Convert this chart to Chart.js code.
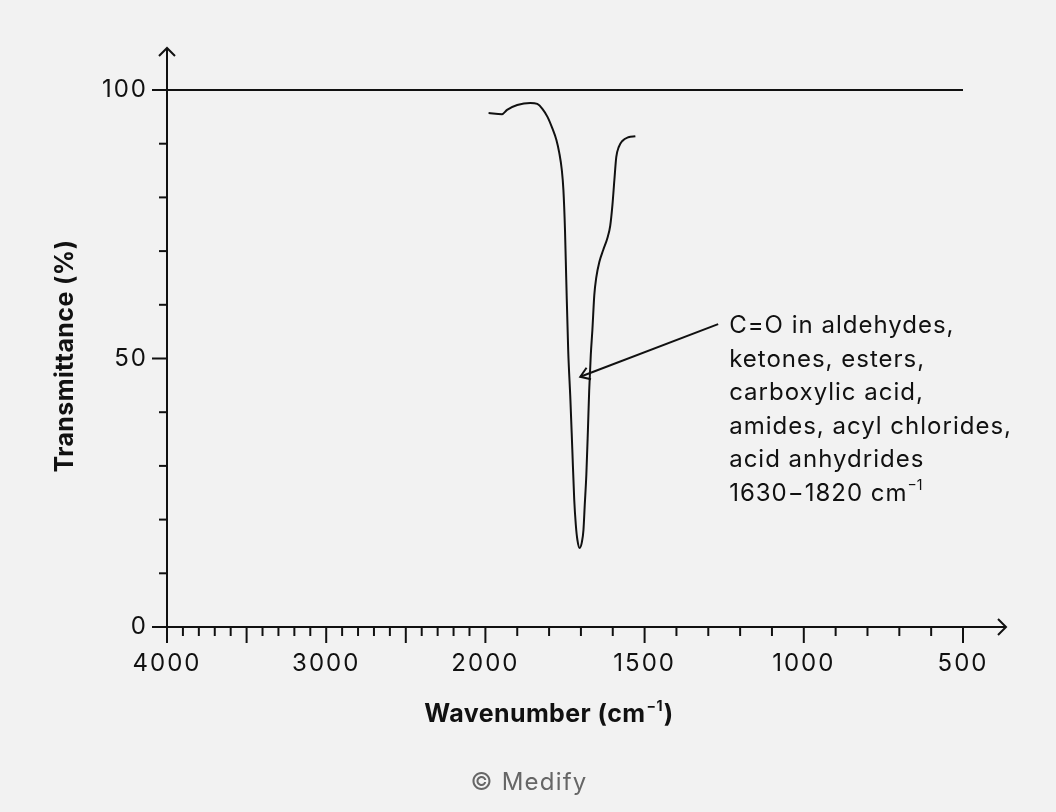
<!DOCTYPE html>
<html><head><meta charset="utf-8">
<script src="https://cdn.jsdelivr.net/npm/chart.js@4.4.1/dist/chart.umd.min.js"></script>
<style>html,body{margin:0;padding:0;background:#f2f2f2;}canvas{display:block}</style>
</head><body>
<div style="width:1056px;height:812px"><canvas id="c" width="1056" height="812"></canvas></div>
<script>
// ---- data ----
const wavenumbers = [1990,1948,1932,1900,1859,1837,1821,1805,1790,1777,1768,1760,1755,1750,1746,1740,1733,1727,1721,1716,1711,1704,1697,1692,1688,1683,1678,1674,1669,1664,1658,1652,1642,1630,1617,1608,1601,1595,1589,1581,1570,1551,1529];
const transmittance = [95.7,95.5,96.3,97.2,97.6,97.4,96.5,95.0,92.9,90.7,88.3,85.1,81.4,73.9,64.6,51.6,42.3,33.0,23.7,19.0,16.2,14.7,15.8,18.1,22.7,28.3,36.7,44.1,50.7,55.3,61.8,65.0,68.0,70.2,72.4,74.7,78.6,83.2,87.5,89.4,90.5,91.2,91.4];
const xTickLabels = [4000,3000,2000,1500,1000,500];
const xMajorTicks = [4000,3500,3000,2500,2000,1500,1000,500];
const xMinorTicks = [3900,3800,3700,3600,3400,3300,3200,3100,2900,2800,2700,2600,2400,2300,2200,2100,1900,1800,1700,1600,1400,1300,1200,1100,900,800,700,600];
const yTickLabels = [0,50,100];
const yMinorTicks = [10,20,30,40,60,70,80,90];
const referenceLine = 100;
const xTitle = ["Wavenumber (cm", "\u22121", ")"];
const yTitle = "Transmittance (%)";
const annotationLines = ["C=O in aldehydes,","ketones, esters,","carboxylic acid,","amides, acyl chlorides,","acid anhydrides"];
const annotationLast = ["1630\u22121820 cm", "\u22121"];
const arrowFrom = {w:1269, t:56.4};
const arrowTo = {w:1702, t:46.6};
const credit = "\u00A9 Medify";

// piecewise wavenumber axis (compressed above 2000 cm-1)
function toU(w){ return w >= 2000 ? (4000 - w) / 2 : 1000 + (2000 - w); }
function fromU(u){ return u <= 1000 ? 4000 - 2*u : 2000 - (u - 1000); }

const FONT = "Inter, 'DejaVu Sans', sans-serif";
const INK = '#111';

const points = wavenumbers.map((w,i)=>({x:toU(w), y:transmittance[i]}));

const decor = {
  id:'decor',
  beforeDraw(chart){
    const c = chart.ctx;
    c.save(); c.fillStyle='#f2f2f2'; c.fillRect(0,0,chart.width,chart.height); c.restore();
    c.letterSpacing = '2px';
  },
  afterDraw(chart){
    const c = chart.ctx, xs = chart.scales.x, ys = chart.scales.y;
    c.letterSpacing = '0px';
    const X = w => xs.getPixelForValue(toU(w));
    const Y = t => ys.getPixelForValue(t);
    const x0 = X(4000), y0 = Y(0);
    c.save();
    c.strokeStyle = INK; c.lineWidth = 2; c.lineCap='butt';
    // 100% line
    c.beginPath(); c.moveTo(x0, Y(referenceLine)); c.lineTo(X(500), Y(referenceLine)); c.stroke();
    // y axis
    c.beginPath(); c.moveTo(x0, y0+16); c.lineTo(x0, Y(100)-42); c.stroke();
    c.beginPath(); c.moveTo(x0-8, Y(100)-34); c.lineTo(x0, Y(100)-42); c.lineTo(x0+8, Y(100)-34); c.stroke();
    // x axis
    const xe = X(500)+43;
    c.beginPath(); c.moveTo(x0-15, y0); c.lineTo(xe, y0); c.stroke();
    c.beginPath(); c.moveTo(xe-8, y0-8); c.lineTo(xe, y0); c.lineTo(xe-8, y0+8); c.stroke();
    // y ticks
    yTickLabels.forEach(v=>{ c.beginPath(); c.moveTo(x0-15, Y(v)); c.lineTo(x0, Y(v)); c.stroke(); });
    yMinorTicks.forEach(v=>{ c.beginPath(); c.moveTo(x0-8, Y(v)); c.lineTo(x0, Y(v)); c.stroke(); });
    // x ticks
    xMajorTicks.forEach(w=>{ c.beginPath(); c.moveTo(X(w), y0); c.lineTo(X(w), y0+16); c.stroke(); });
    xMinorTicks.forEach(w=>{ c.beginPath(); c.moveTo(X(w), y0); c.lineTo(X(w), y0+9); c.stroke(); });
    // annotation arrow
    const ax = X(arrowFrom.w), ay = Y(arrowFrom.t), bx = X(arrowTo.w), by = Y(arrowTo.t);
    c.lineWidth = 2;
    c.beginPath(); c.moveTo(ax, ay); c.lineTo(bx, by); c.stroke();
    const ang = Math.atan2(ay-by, ax-bx);
    c.beginPath();
    c.moveTo(bx+11*Math.cos(ang-0.6), by+11*Math.sin(ang-0.6));
    c.lineTo(bx, by);
    c.lineTo(bx+11*Math.cos(ang+0.6), by+11*Math.sin(ang+0.6));
    c.stroke();
    // annotation text
    c.fillStyle = INK; c.font = `24px ${FONT}`; c.textBaseline='alphabetic'; c.textAlign='left';
    c.letterSpacing = '1px';
    const tx = ax + 11, ty0 = ay + 9, lh = 33.5;
    annotationLines.forEach((s,i)=> c.fillText(s, tx, ty0 + i*lh));
    const ly = ty0 + annotationLines.length*lh;
    c.fillText(annotationLast[0], tx, ly);
    const lw = c.measureText(annotationLast[0]).width;
    c.letterSpacing = '0px';
    c.font = `14px ${FONT}`; c.fillText(annotationLast[1], tx+lw, ly-11);
    // x title
    c.letterSpacing = '0.4px';
    c.font = `bold 25px ${FONT}`;
    const w1 = c.measureText(xTitle[0]).width;
    c.font = `bold 14px ${FONT}`; const w2 = c.measureText(xTitle[1]).width;
    c.font = `bold 25px ${FONT}`; const w3 = c.measureText(xTitle[2]).width;
    let sx = 549 - (w1+w2+w3+2)/2; const sy = 722;
    c.fillText(xTitle[0], sx, sy);
    c.font = `bold 14px ${FONT}`; c.fillText(xTitle[1], sx+w1+1, sy-11);
    c.font = `bold 25px ${FONT}`; c.fillText(xTitle[2], sx+w1+w2+2, sy);
    // y title
    c.save(); c.translate(73, 356); c.rotate(-Math.PI/2);
    c.textAlign='center'; c.font = `bold 25px ${FONT}`; c.fillText(yTitle, 0, 0); c.restore();
    // credit
    c.letterSpacing = '1.2px';
    c.fillStyle = '#666'; c.font = `24px ${FONT}`; c.textAlign='center';
    c.fillText(credit, 529, 790);
    c.restore();
  }
};

new Chart(document.getElementById('c'), {
  type:'scatter',
  data:{ datasets:[{ data:points, showLine:true, borderColor:INK, borderWidth:2, pointRadius:0, cubicInterpolationMode:'monotone', fill:false }]},
  options:{
    responsive:false, animation:false,
    layout:{ padding:{ left:0, right:93, top:90, bottom:0 } },
    plugins:{ legend:{display:false}, tooltip:{enabled:false} },
    scales:{
      x:{ type:'linear', min:0, max:2500, position:'bottom',
          afterFit(s){ s.height = 185; },
          afterBuildTicks(s){ s.ticks = xTickLabels.map(w=>({value:toU(w)})); },
          grid:{display:false, drawTicks:false}, border:{display:false},
          ticks:{ autoSkip:false, maxRotation:0, padding:22, color:INK, font:{family:FONT, size:24},
                  callback:(v)=> String(fromU(v)) } },
      y:{ type:'linear', min:0, max:100,
          afterFit(s){ s.width = 167; },
          afterBuildTicks(s){ s.ticks = yTickLabels.map(v=>({value:v})); },
          grid:{display:false, drawTicks:false}, border:{display:false},
          ticks:{ padding:19, color:INK, font:{family:FONT, size:24}, callback:(v)=>String(v) } }
    }
  },
  plugins:[decor]
});
</script>
</body></html>
